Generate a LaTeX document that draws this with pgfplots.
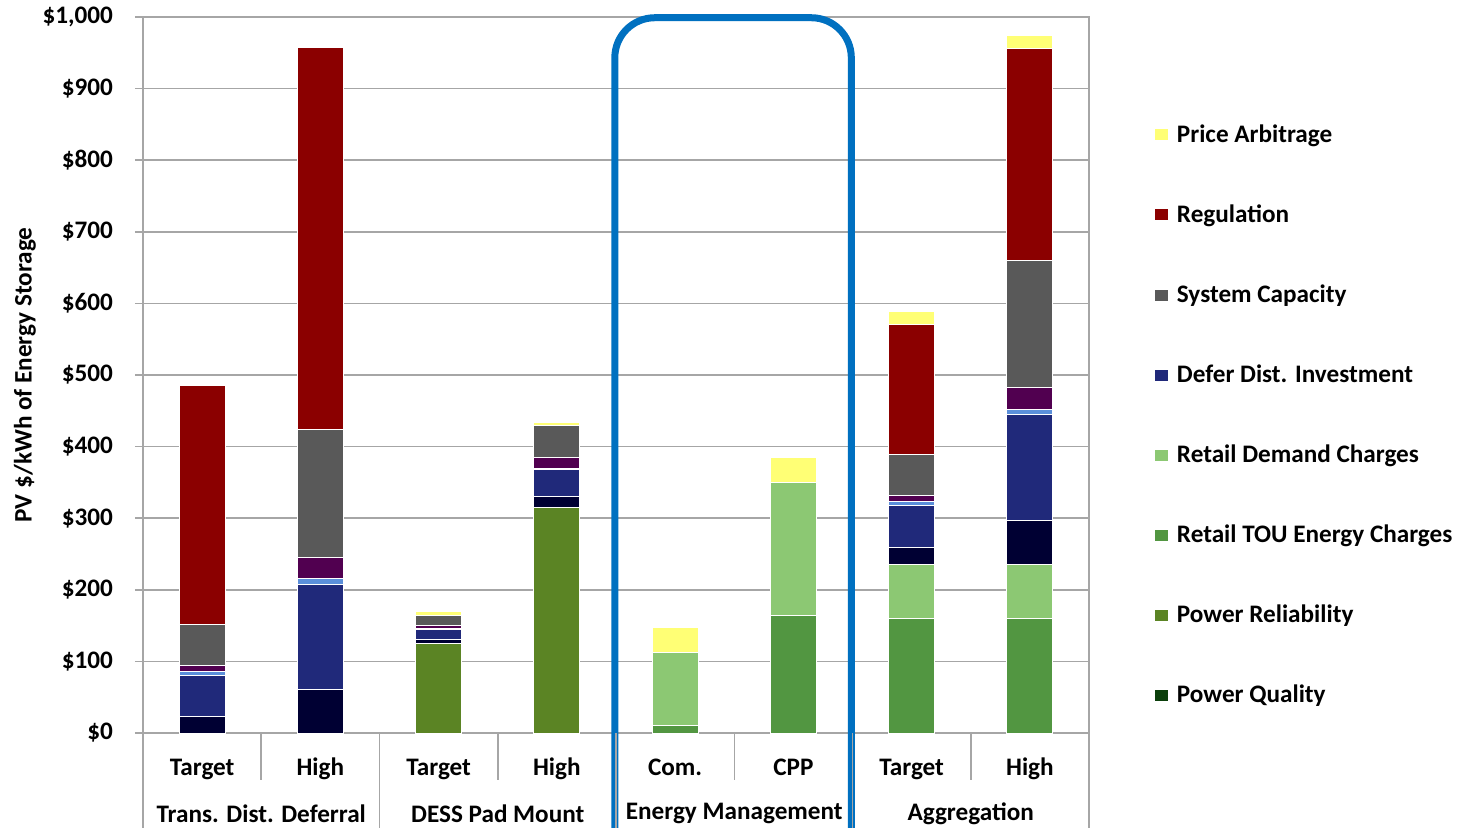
\documentclass[border=0pt]{standalone}
\usepackage{fontspec}
\setmainfont{Carlito}
\usepackage{pgfplots}
\pgfplotsset{compat=1.18}
\definecolor{cPA}{HTML}{FFFF75}
\definecolor{cReg}{HTML}{8B0000}
\definecolor{cCap}{HTML}{595959}
\definecolor{cDef}{HTML}{20297A}
\definecolor{cDN}{HTML}{000033}
\definecolor{cLB}{HTML}{5B8FDA}
\definecolor{cPur}{HTML}{510050}
\definecolor{cDem}{HTML}{8CC873}
\definecolor{cTOU}{HTML}{529641}
\definecolor{cRel}{HTML}{5B8424}
\definecolor{cPQ}{HTML}{0B3F0B}
\definecolor{gridgray}{HTML}{A6A6A6}
\definecolor{boxblue}{HTML}{0070C0}
\newcommand{\ff}{\bfseries\fontsize{12.6}{14}\selectfont}
\begin{document}
\begin{tikzpicture}
\useasboundingbox (-71.5pt,-47pt) rectangle (659.5pt,366.5pt);
\begin{axis}[
  at={(0pt,0pt)}, anchor=south west,
  width=473pt, height=358pt, scale only axis,
  ybar stacked, bar width=23pt,
  xmin=-0.5, xmax=7.5, ymin=0, ymax=1000,
  xtick={0,...,7},
  xticklabels={Target,High,Target,High,Com.,CPP,Target,High},
  x tick style={draw=none},
  xticklabel style={font=\ff, anchor=center, text height=8.8pt, text depth=2.6pt},
  xticklabel shift=14pt,
  ytick={0,100,...,1000}, ytick pos=left,
  yticklabels={\$0,\$100,\$200,\$300,\$400,\$500,\$600,\$700,\$800,\$900,{\$1,000}},
  yticklabel style={font=\ff, xshift=-7.5pt},
  ymajorgrids, grid style={line width=0.75pt, color=gridgray},
  axis line style={gridgray, line width=0.75pt},
  tick align=outside, major tick length=4pt,
  y tick style={gridgray, line width=0.75pt},
  clip=false,
  every axis plot/.append style={draw=white, line width=0.5pt},
  reverse legend,
  legend style={at={(rel axis cs:1.0698,0.856)}, anchor=north west, draw=none, fill=none,
    font=\ff, row sep=25.7pt, inner sep=0pt, cells={anchor=west}},
  legend image code/.code={\fill[#1, draw=none] (0pt,-2.75pt) rectangle (6.5pt,2.75pt); \path (8.5pt,0pt);},
]
% bottom to top
\addplot[fill=cPQ, draw=none] coordinates {(0,0) (1,0) (2,0) (3,0) (4,0) (5,0) (6,0) (7,0)};
\addlegendentry{Power Quality}
\addplot[fill=cRel] coordinates {(0,0) (1,0) (2,125) (3,315) (4,0) (5,0) (6,0) (7,0)};
\addlegendentry{Power Reliability}
\addplot[fill=cTOU] coordinates {(0,0) (1,0) (2,0) (3,0) (4,10) (5,164) (6,160) (7,160)};
\addlegendentry{Retail TOU Energy Charges}
\addplot[fill=cDem] coordinates {(0,0) (1,0) (2,0) (3,0) (4,103) (5,186) (6,76) (7,76)};
\addlegendentry{Retail Demand Charges}
\addplot[fill=cDN, forget plot] coordinates {(0,23) (1,61) (2,5.5) (3,16) (4,0) (5,0) (6,23) (7,61.5)};
\addplot[fill=cDef] coordinates {(0,58) (1,147) (2,14) (3,37) (4,0) (5,0) (6,59) (7,147.5)};
\addlegendentry{Defer Dist. Investment}
\addplot[fill=cLB, forget plot] coordinates {(0,5) (1,8) (2,1) (3,2) (4,0) (5,0) (6,5) (7,7)};
\addplot[fill=cPur, forget plot] coordinates {(0,8) (1,29) (2,4) (3,14.5) (4,0) (5,0) (6,8.5) (7,30)};
\addplot[fill=cCap] coordinates {(0,58) (1,179) (2,15) (3,44.5) (4,0) (5,0) (6,58) (7,178.5)};
\addlegendentry{System Capacity}
\addplot[fill=cReg] coordinates {(0,333) (1,533) (2,0) (3,0) (4,0) (5,0) (6,181) (7,296)};
\addlegendentry{Regulation}
\addplot[fill=cPA] coordinates {(0,0) (1,0) (2,4.6) (3,4.4) (4,35) (5,35) (6,18) (7,18)};
\addlegendentry{Price Arbitrage}
% category separators
\pgfplotsinvokeforeach{0.5,2.5,4.5,6.5}{
  \draw[gridgray, line width=0.75pt] (axis cs:#1,0) -- ++(0pt,-23.5pt);
}
\pgfplotsinvokeforeach{-0.5,1.5,3.5,5.5,7.5}{
  \draw[gridgray, line width=0.75pt] (axis cs:#1,0) -- ++(0pt,-50pt);
}
% group labels
\node[font=\ff] at ([yshift=-40.3pt]axis cs:0.5,0) {Trans. Dist. Deferral};
\node[font=\ff] at ([yshift=-40.3pt]axis cs:2.5,0) {DESS Pad Mount};
\node[font=\ff] at ([yshift=-40.3pt]axis cs:4.5,0) {Energy Management};
\node[font=\ff] at ([yshift=-40.3pt]axis cs:6.5,0) {Aggregation};
% y label
\node[font=\ff, rotate=90] at ([xshift=-59pt]rel axis cs:0,0.5) {PV \$/kWh of Energy Storage};
% highlight box
\draw[boxblue, line width=3.5pt, rounded corners=20pt]
  (axis cs:3.49,-400) -- (axis cs:3.49,999) -- (axis cs:5.49,999) -- (axis cs:5.49,-400);
\end{axis}
\end{tikzpicture}
\end{document}
